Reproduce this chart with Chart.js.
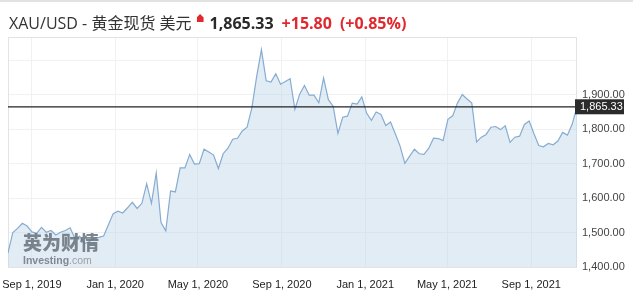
<!DOCTYPE html>
<html>
<head>
<meta charset="utf-8">
<script src="https://cdn.jsdelivr.net/npm/chart.js@4.4.0/dist/chart.umd.min.js"></script>
<style>
  html, body { margin:0; padding:0; background:#fff; }
  #wrap { position:relative; width:633px; height:304px; overflow:hidden; }
  #topline { position:absolute; left:0; top:0; width:633px; height:2px; background:#e2e2e2; }
  #head { position:absolute; left:9px; top:13px; font-family:"Open Sans","Noto Sans CJK SC",sans-serif;
          font-size:16px; line-height:20px; color:#333; white-space:nowrap; }
  #head .up { display:inline-block; width:7px; height:8px; background:#e0282e; margin:0 6px 0 5px;
              clip-path:polygon(50% 0,100% 45%,100% 100%,0 100%,0 45%); vertical-align:7px; }
  #head .px { font-weight:700; color:#2a2a2a; }
  #head .chg { font-weight:700; color:#e0282e; margin-left:8px; }
  #mark { position:absolute; left:23px; top:230px; opacity:0.85; pointer-events:none; }
  #mark .cn { font-family:"Noto Sans CJK SC",sans-serif; font-weight:900; font-size:19px; line-height:23px;
              color:#66717c; }
  #mark .en { font-family:"Liberation Sans",Arial,sans-serif; font-size:10.5px; line-height:12px; color:#6f7780; margin-top:1px; }
  #mark .en b { font-weight:700; }
  #mark .en span { color:#8c939a; }
  canvas { position:absolute; left:0; top:0; }
</style>
</head>
<body>
<div id="wrap">
  <canvas id="chart" width="633" height="304"></canvas>
  <div id="topline"></div>
  <div id="head">XAU/USD - 黄金现货 美元<span class="up"></span><span class="px">1,865.33</span><span class="chg">+15.80</span><span class="chg">(+0.85%)</span></div>
  <div id="mark"><div class="cn">英为财情</div><div class="en"><b>Investing</b><span>.com</span></div></div>
</div>
<script>
// XAU/USD weekly close
const firstWeek = '2019-07-28';
const goldClose = [
  1441, 1500, 1512, 1527, 1519, 1502, 1498, 1515, 1501, 1506,
  1493, 1501, 1506, 1514, 1483, 1489, 1468, 1474, 1483, 1486,
  1490, 1523, 1555, 1562, 1557, 1572, 1588, 1570, 1585, 1642,
  1585, 1673, 1529, 1505, 1621, 1618, 1688, 1688, 1727, 1699,
  1700, 1742, 1734, 1725, 1686, 1729, 1745, 1771, 1774, 1795,
  1806, 1862, 1953, 2031, 1941, 1937, 1961, 1931, 1939, 1947,
  1858, 1902, 1927, 1899, 1899, 1877, 1949, 1886, 1867, 1788,
  1835, 1838, 1876, 1873, 1894, 1847, 1826, 1850, 1843, 1811,
  1821, 1787, 1751, 1701, 1722, 1742, 1729, 1727, 1745, 1774,
  1773, 1767, 1829, 1839, 1876, 1901, 1888, 1876, 1763, 1777,
  1785, 1806, 1808, 1799, 1810, 1762, 1777, 1780, 1814, 1824,
  1787, 1753, 1749, 1759, 1755, 1766, 1791, 1783, 1815, 1865.33
];
const lastPrice = 1865.33;

const xTickDates = ['2019-09-01','2020-01-01','2020-05-01','2020-09-01','2021-01-01','2021-05-01','2021-09-01'];
const xTickLabels = ['Sep 1, 2019','Jan 1, 2020','May 1, 2020','Sep 1, 2020','Jan 1, 2021','May 1, 2021','Sep 1, 2021'];
const yTicks = [1400, 1500, 1600, 1700, 1800, 1900, 2000];

const DAY = 86400000;
const t0 = Date.parse(firstWeek);
const points = goldClose.map((v, i) => ({ x: t0 + i * 7 * DAY, y: v }));

const fmt = v => v.toLocaleString('en-US', { minimumFractionDigits: 2, maximumFractionDigits: 2 });

// plot frame + last price line and tag
const lastLine = {
  id: 'lastLine',
  beforeDatasetsDraw(chart){
    const { ctx, chartArea: a } = chart;
    ctx.save();
    ctx.strokeStyle = '#e3e3e3';
    ctx.lineWidth = 1;
    ctx.strokeRect(a.left + 0.5, a.top + 0.5, a.right - a.left - 1, a.bottom - a.top);
    ctx.restore();
  },
  afterDraw(chart){
    const { ctx, chartArea: a, scales } = chart;
    const y = scales.y.getPixelForValue(lastPrice);
    ctx.save();
    ctx.strokeStyle = '#222';
    ctx.lineWidth = 1.3;
    ctx.beginPath();
    ctx.moveTo(a.left, y);
    ctx.lineTo(a.right, y);
    ctx.stroke();
    ctx.fillStyle = '#2b2b2b';
    ctx.fillRect(a.right - 2, y - 7.5, 49, 15);
    ctx.fillStyle = '#fff';
    ctx.font = '11px "Liberation Sans", Arial, sans-serif';
    ctx.textBaseline = 'middle';
    ctx.textAlign = 'left';
    ctx.fillText(fmt(lastPrice), a.right + 3, y + 0.5);
    ctx.restore();
  }
};

new Chart(document.getElementById('chart'), {
  type: 'line',
  data: {
    datasets: [{
      data: points,
      borderColor: '#86acd2',
      borderWidth: 1.2,
      backgroundColor: 'rgba(190,212,232,0.45)',
      fill: 'start',
      pointRadius: 0,
      tension: 0
    }]
  },
  options: {
    responsive: false,
    animation: false,
    layout: { padding: { left: 8, top: 37, right: 0, bottom: 0 } },
    plugins: { legend: { display: false }, tooltip: { enabled: false } },
    scales: {
      x: {
        type: 'linear',
        min: t0,
        max: t0 + (goldClose.length - 1) * 7 * DAY,
        afterBuildTicks: s => { s.ticks = xTickDates.map(d => ({ value: Date.parse(d) })); },
        afterFit: s => { s.height = 37; s.paddingLeft = 0; s.paddingRight = 0; },
        grid: { color: '#eff1f3', drawTicks: false },
        border: { display: false },
        ticks: {
          autoSkip: false, maxRotation: 0, padding: 11,
          color: '#222', font: { family: '"Liberation Sans", Arial, sans-serif', size: 11 },
          callback: (v, i) => xTickLabels[i]
        }
      },
      y: {
        position: 'right',
        min: 1400,
        max: 2068,
        afterBuildTicks: s => { s.ticks = yTicks.map(v => ({ value: v })); },
        afterFit: s => { s.width = 56; },
        grid: { color: '#eff1f3', drawTicks: false },
        border: { display: false },
        ticks: {
          padding: 5,
          color: '#444', font: { family: '"Liberation Sans", Arial, sans-serif', size: 11 },
          callback: v => v > 1900 ? '' : fmt(v)
        }
      }
    }
  },
  plugins: [lastLine]
});
</script>
</body>
</html>
